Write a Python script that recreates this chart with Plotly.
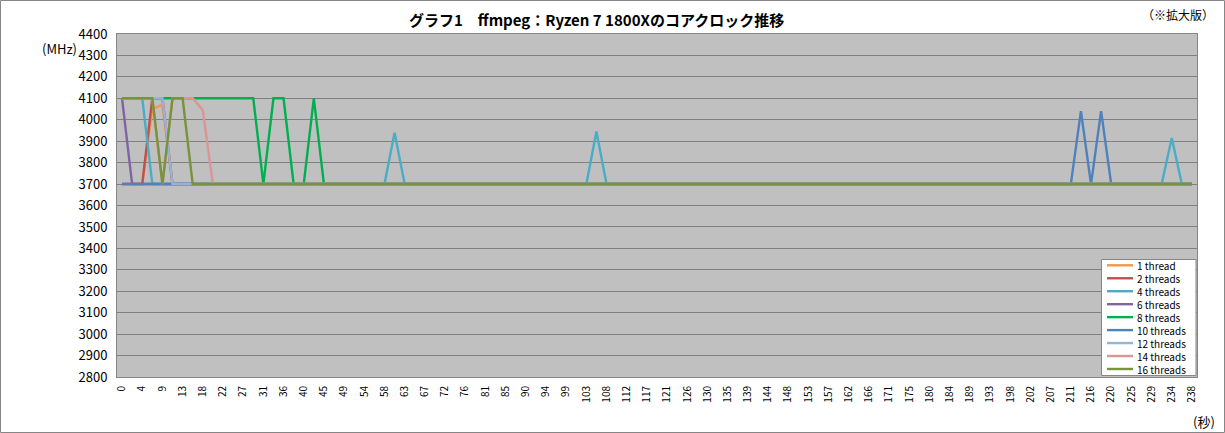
import plotly.graph_objects as go

# ---------------- data ----------------
# category tick labels (seconds), shown on every second sample
TICK_LABELS = ["0", "4", "9", "13", "18", "22", "27", "31", "36", "40", "45", "49",
               "54", "58", "63", "67", "72", "76", "81", "85", "90", "94", "99", "103",
               "108", "112", "117", "121", "126", "130", "135", "139", "144", "148",
               "153", "157", "162", "166", "171", "175", "180", "184", "189", "193",
               "198", "202", "207", "211", "216", "220", "225", "229", "234", "238"]

SERIES_NAMES = ["1 thread", "2 threads", "4 threads", "6 threads", "8 threads",
                "10 threads", "12 threads", "14 threads", "16 threads"]
SERIES_COLORS = ["#F79646", "#C0504D", "#4BACC6", "#8064A2", "#00B050",
                 "#4F81BD", "#95B3D7", "#D99694", "#77933C"]

# sample index of each vertex of the line, and the clock (MHz) there
T1_IDX = [0, 2, 3, 4, 5, 106]
T1_MHZ = [3700, 3700, 4050, 4070, 3700, 3700]
T2_IDX = [0, 2, 3, 4, 5, 106]
T2_MHZ = [3700, 3700, 4100, 4100, 3700, 3700]
T4_IDX = [0, 2, 3, 26, 27, 28, 46, 47, 48, 103, 104, 105, 106]
T4_MHZ = [4100, 4100, 3700, 3700, 3940, 3700, 3700, 3945, 3700, 3700, 3915, 3700, 3700]
T6_IDX = [0, 1, 106]
T6_MHZ = [4100, 3700, 3700]
T8_IDX = [0, 13, 14, 15, 16, 17, 18, 19, 20, 106]
T8_MHZ = [4100, 4100, 3700, 4100, 4100, 3700, 3700, 4100, 3700, 3700]
T10_IDX = [0, 94, 95, 96, 97, 98, 106]
T10_MHZ = [3700, 3700, 4040, 3700, 4040, 3700, 3700]
T12_IDX = [0, 4, 5, 106]
T12_MHZ = [4100, 4100, 3700, 3700]
T14_IDX = [0, 3, 4, 5, 7, 8, 9, 106]
T14_MHZ = [4100, 4100, 3700, 4100, 4100, 4045, 3700, 3700]
T16_IDX = [0, 3, 4, 5, 6, 7, 106]
T16_MHZ = [4100, 4100, 3700, 4100, 4100, 3700, 3700]

SERIES_IDX = [T1_IDX, T2_IDX, T4_IDX, T6_IDX, T8_IDX, T10_IDX, T12_IDX, T14_IDX, T16_IDX]
SERIES_MHZ = [T1_MHZ, T2_MHZ, T4_MHZ, T6_MHZ, T8_MHZ, T10_MHZ, T12_MHZ, T14_MHZ, T16_MHZ]

TITLE = "グラフ1\u3000ffmpeg：Ryzen 7 1800Xのコアクロック推移"
NOTE = "（※拡大版）"
Y_UNIT = "(MHz)"
X_UNIT = "(秒)"

# ---------------- layout geometry ----------------
W, H = 1225, 433
L, R, T, B = 117, 28, 34, 56
PW, PH = W - L - R, H - T - B
FONT = "Noto Sans CJK JP, Noto Sans, sans-serif"
N_SAMPLES = 2 * len(TICK_LABELS) - 1


def px(x):
    return (x - L) / PW


def py(y):
    return 1 - (y - T) / PH


fig = go.Figure()
for name, color, xs, ys in zip(SERIES_NAMES, SERIES_COLORS, SERIES_IDX, SERIES_MHZ):
    fig.add_trace(go.Scatter(x=xs, y=ys, mode="lines", name=name,
                             line=dict(color=color, width=2.4),
                             showlegend=False))

shapes = []
annotations = []

# outer chart border
shapes.append(dict(type="rect", xref="paper", yref="paper",
                   x0=px(0.5), x1=px(W - 0.5), y0=py(0.5), y1=py(H - 0.5),
                   line=dict(color="#868686", width=1), layer="below"))

# manual legend (compact like the original)
LEG_X0, LEG_X1, LEG_Y0, LEG_Y1 = 1101.5, 1196, 259.5, 375.5
LEG_Y_FIRST, LEG_STEP = 265.3, 12.96
shapes.append(dict(type="rect", xref="paper", yref="paper",
                   x0=px(LEG_X0), x1=px(LEG_X1), y0=py(LEG_Y0), y1=py(LEG_Y1),
                   fillcolor="white", line=dict(color="#868686", width=1), layer="above"))
for i, color in enumerate(SERIES_COLORS):
    yc = LEG_Y_FIRST + i * LEG_STEP
    shapes.append(dict(type="line", xref="paper", yref="paper",
                       x0=px(1107), x1=px(1133), y0=py(yc), y1=py(yc),
                       line=dict(color=color, width=2.4), layer="above"))
leg_mid = LEG_Y_FIRST + LEG_STEP * (len(SERIES_NAMES) - 1) / 2
annotations.append(dict(text="<br>".join(SERIES_NAMES), xref="paper", yref="paper",
                        x=px(1136), y=py(leg_mid), xanchor="left", yanchor="middle",
                        align="left", showarrow=False, borderpad=0,
                        font=dict(size=10, color="#000", family=FONT)))

annotations.append(dict(text="<b>" + TITLE + "</b>", xref="paper", yref="paper",
                        x=px(596), y=py(19), xanchor="center", yanchor="middle",
                        showarrow=False, font=dict(size=15, color="#000", family=FONT)))
annotations.append(dict(text=NOTE, xref="paper", yref="paper",
                        x=px(1216), y=py(15), xanchor="right", yanchor="middle",
                        showarrow=False, font=dict(size=12, color="#000", family=FONT)))
annotations.append(dict(text=Y_UNIT, xref="paper", yref="paper",
                        x=px(59), y=py(48), xanchor="center", yanchor="middle",
                        showarrow=False, font=dict(size=13, color="#000", family=FONT)))
annotations.append(dict(text=X_UNIT, xref="paper", yref="paper",
                        x=px(1204), y=py(421), xanchor="center", yanchor="middle",
                        showarrow=False, font=dict(size=13, color="#000", family=FONT)))

fig.update_layout(
    width=W, height=H, autosize=False,
    margin=dict(l=L, r=R, t=T, b=B, pad=0),
    paper_bgcolor="white", plot_bgcolor="#C0C0C0",
    font=dict(family=FONT, color="#000"),
    shapes=shapes, annotations=annotations,
    showlegend=False,
)
fig.update_xaxes(range=[-0.5, N_SAMPLES - 0.5],
                 tickmode="array",
                 tickvals=list(range(0, N_SAMPLES, 2)),
                 ticktext=TICK_LABELS,
                 tickangle=-90, tickfont=dict(size=10, family=FONT),
                 showgrid=False, zeroline=False,
                 showline=True, linecolor="#868686", linewidth=1, mirror=True,
                 ticks="", ticklabelstandoff=4)
fig.update_yaxes(range=[2800, 4400], dtick=100, tick0=2800,
                 tickfont=dict(size=13, family=FONT),
                 showgrid=True, gridcolor="#808080", gridwidth=1,
                 zeroline=False,
                 showline=True, linecolor="#868686", linewidth=1, mirror=True,
                 ticks="", ticklabelstandoff=6)

fig.write_html("out.html",
               config={"displayModeBar": False},
               post_script="document.body.style.margin='0';document.body.style.padding='0';")
